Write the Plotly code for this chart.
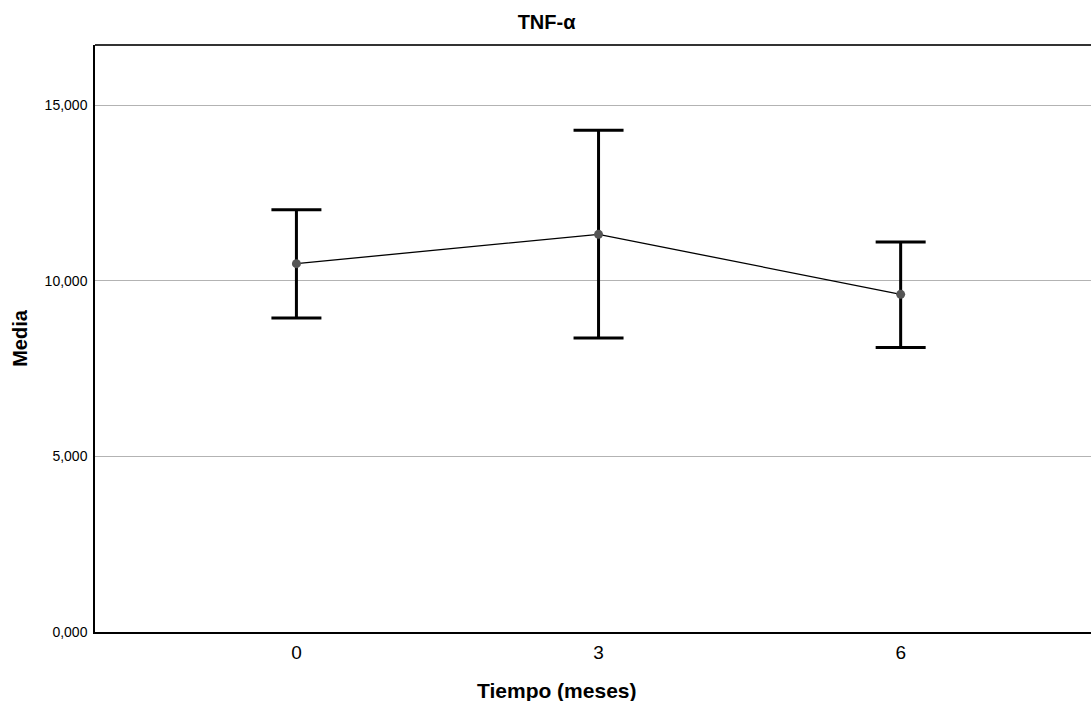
import plotly.graph_objects as go

# Mean TNF-α by follow-up month, with 95% CI bounds
tiempo = [0, 3, 6]
media = [10487, 11321, 9613]
ic_superior = [12024, 14281, 11102]
ic_inferior = [8938, 8369, 8096]

err_plus = [u - m for u, m in zip(ic_superior, media)]
err_minus = [m - l for m, l in zip(media, ic_inferior)]

FONT = "Liberation Sans, Arial, sans-serif"

fig = go.Figure()
fig.add_trace(go.Scatter(
    x=tiempo,
    y=media,
    mode="lines+markers",
    line=dict(color="#000000", width=1.3),
    marker=dict(color="#555555", size=9),
    error_y=dict(
        type="data",
        symmetric=False,
        array=err_plus,
        arrayminus=err_minus,
        color="#000000",
        thickness=3,
        width=25,
    ),
    showlegend=False,
))

fig.update_layout(
    width=1091,
    height=701,
    margin=dict(l=95, r=0, t=45, b=69),
    paper_bgcolor="white",
    plot_bgcolor="white",
    font=dict(family=FONT, color="#000000"),
    title=dict(
        text="<b>TNF-α</b>",
        x=0.501,
        xanchor="center",
        y=0.968,
        yanchor="middle",
        font=dict(size=20, family=FONT, color="#000000"),
    ),
    xaxis=dict(
        range=[-2, 7.89],
        tickvals=tiempo,
        ticktext=[str(t) for t in tiempo],
        showgrid=False,
        zeroline=False,
        showline=True,
        linecolor="#000000",
        linewidth=1.5,
        ticks="",
        ticklabelstandoff=2,
        tickfont=dict(size=19, family=FONT),
    ),
    yaxis=dict(
        range=[0, 16711],
        tickvals=[0, 5000, 10000, 15000],
        ticktext=["0,000", "5,000", "10,000", "15,000"],
        showgrid=True,
        gridcolor="#b3b3b3",
        gridwidth=1,
        zeroline=False,
        showline=True,
        linecolor="#000000",
        linewidth=1.5,
        ticks="",
        ticklabelstandoff=3,
        tickfont=dict(size=14, family=FONT),
        title=dict(text="<b>Media</b>", font=dict(size=20, family=FONT), standoff=12),
    ),
)

# x-axis title
fig.add_annotation(
    text="<b>Tiempo (meses)</b>",
    xref="paper", yref="paper",
    x=0.464, y=-0.1,
    xanchor="center", yanchor="middle",
    showarrow=False,
    font=dict(size=21, family=FONT, color="#000000"),
)

# Top border of the plotting frame
fig.add_shape(
    type="line", xref="paper", yref="paper",
    x0=0, x1=1, y0=1, y1=1,
    line=dict(color="#333333", width=2),
)

fig.write_html("out.html")
